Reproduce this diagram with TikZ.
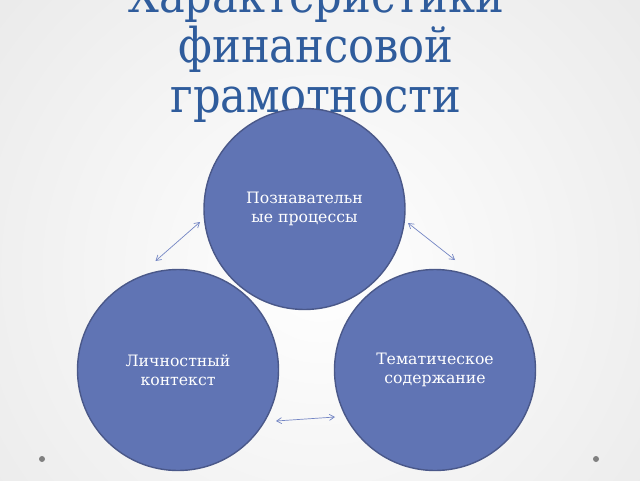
\documentclass[tikz,border=0pt]{standalone}
\usepackage{fontspec}
\setmainfont{DejaVu Serif}
\newfontfamily\titlefont{DejaVu Serif Condensed}
\usetikzlibrary{arrows.meta, positioning}
\definecolor{circfill}{HTML}{6074B4}
\definecolor{circline}{HTML}{4A5889}
\definecolor{titleblue}{HTML}{2F5C9C}
\definecolor{arrowblue}{HTML}{7486C4}

\begin{document}
\begin{tikzpicture}[
    x=1pt, y=-1pt,
    area/.style={draw=circline, line width=1.4pt, fill=circfill, circle, minimum size=201pt,
        text=white, align=center, font=\fontsize{15.7}{19.5}\selectfont},
    link/.style={draw=arrowblue, line width=0.7pt, {Straight Barb[length=5pt,width=6pt]}-{Straight Barb[length=5pt,width=6pt]}},
    dot/.style={fill=gray, circle, inner sep=0pt, minimum size=6pt}
]
    % background
    \useasboundingbox (0,0) rectangle (640,480);
    \clip (0,0) rectangle (640,480);
    \shade[inner color=white, outer color=black!16] (320,270) circle (840);

    % title
    \node[text=titleblue, align=center, font=\titlefont\fontsize{48}{50}\selectfont, anchor=base] (title) at (316,112)
        {Характеристики\\финансовой\\грамотности};

    % circles
    \node[area] (cognitive) at (304.5,209) {Познавательн\\ые процессы};
    \node[area] (personal) at (178,370) {Личностный\\контекст};
    \node[area] (thematic) at (435,370) {Тематическое\\содержание};

    % arrow ends
    \coordinate (a1) at (155.5,261);
    \coordinate (a2) at (200,222);
    \coordinate (b1) at (408,223);
    \coordinate (b2) at (455,260);
    \coordinate (c1) at (276,421);
    \coordinate (c2) at (335,417);

    \draw[link] (a1) -- (a2);
    \draw[link] (b1) -- (b2);
    \draw[link] (c1) -- (c2);

    % corner dots
    \node[dot] (dotleft) at (42,459) {};
    \node[dot] (dotright) at (596,459) {};
\end{tikzpicture}
\end{document}
